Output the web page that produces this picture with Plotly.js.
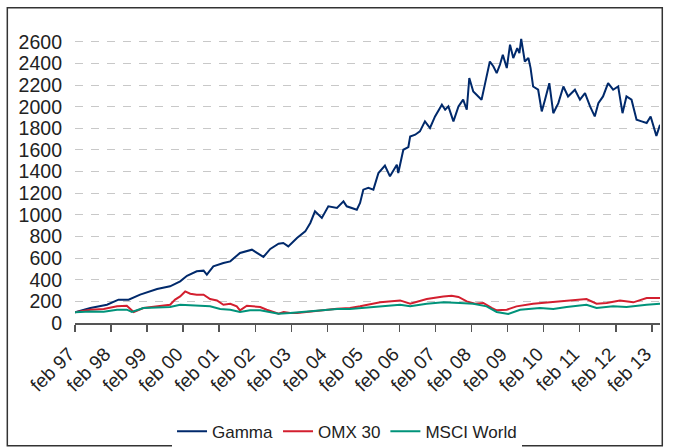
<!DOCTYPE html>
<html>
<head>
<meta charset="utf-8">
<script src="https://cdn.plot.ly/plotly-3.0.1.min.js"></script>
<style>
  html, body { margin: 0; padding: 0; background: #fff; }
  #chart { width: 681px; height: 448px; }
</style>
</head>
<body>
<div id="chart"></div>
<script>
// Time in decimal years (feb 97 = 1997.083)
const gammaT = [1997.083,1997.51,1997.97,1998.29,1998.57,1998.89,1999.36,1999.72,2000.00,2000.19,2000.46,2000.65,2000.74,2000.92,2001.20,2001.39,2001.66,2001.99,2002.13,2002.31,2002.50,2002.73,2002.86,2003.00,2003.24,2003.47,2003.61,2003.74,2003.93,2004.11,2004.35,2004.53,2004.62,2004.90,2004.99,2005.08,2005.22,2005.36,2005.50,2005.68,2005.82,2006.01,2006.05,2006.19,2006.33,2006.38,2006.52,2006.65,2006.79,2006.93,2007.07,2007.26,2007.35,2007.44,2007.58,2007.72,2007.85,2007.95,2008.02,2008.13,2008.27,2008.36,2008.46,2008.59,2008.69,2008.78,2008.87,2008.95,2009.06,2009.15,2009.24,2009.35,2009.41,2009.46,2009.56,2009.66,2009.72,2009.79,2009.93,2010.03,2010.12,2010.24,2010.35,2010.49,2010.63,2010.76,2010.95,2011.09,2011.23,2011.37,2011.50,2011.60,2011.73,2011.87,2012.01,2012.15,2012.27,2012.38,2012.52,2012.66,2012.80,2012.94,2013.05,2013.17,2013.21,2013.31];
const gammaV = [100,139,169,216,216,262,314,339,385,437,478,484,447,524,555,570,648,678,648,611,685,733,740,708,786,847,925,1033,972,1079,1064,1125,1079,1048,1110,1233,1249,1233,1387,1455,1356,1464,1387,1602,1627,1725,1741,1772,1864,1803,1910,2018,1972,2003,1864,2003,2065,1972,2265,2141,2095,2065,2218,2418,2372,2311,2388,2481,2357,2574,2450,2542,2496,2628,2418,2450,2357,2187,2157,1956,2065,2218,1940,2033,2187,2095,2157,2065,2125,2003,1910,2033,2095,2218,2157,2187,1940,2095,2065,1880,1864,1849,1910,1772,1730,1833];

const omxT = [1997.083,1997.51,1997.88,1998.25,1998.52,1998.71,1998.98,1999.36,1999.72,1999.86,2000.00,2000.14,2000.28,2000.46,2000.65,2000.83,2001.02,2001.20,2001.39,2001.57,2001.66,2001.85,2002.03,2002.22,2002.40,2002.59,2002.73,2002.87,2003.05,2003.24,2003.61,2003.97,2004.35,2004.71,2004.99,2005.55,2006.10,2006.38,2006.84,2007.30,2007.53,2007.72,2007.95,2008.18,2008.41,2008.64,2008.78,2009.06,2009.33,2009.79,2010.26,2010.72,2011.27,2011.55,2011.83,2012.20,2012.57,2012.94,2013.31];
const omxV = [100,123,129,154,160,102,139,154,169,216,246,292,271,262,262,222,209,169,178,154,117,160,154,148,123,98,86,102,92,92,107,123,132,139,154,191,209,178,222,246,252,241,200,178,185,139,117,123,154,178,191,209,222,178,185,209,191,231,231];

const msciT = [1997.083,1997.51,1997.88,1998.25,1998.52,1998.66,1998.98,1999.36,1999.72,2000.00,2000.19,2000.46,2000.83,2001.11,2001.39,2001.66,2001.94,2002.22,2002.50,2002.73,2003.05,2003.42,2003.97,2004.35,2004.71,2005.08,2005.55,2006.10,2006.38,2006.84,2007.30,2007.53,2007.76,2008.13,2008.50,2008.78,2009.10,2009.43,2009.98,2010.35,2010.72,2011.27,2011.55,2012.01,2012.38,2012.94,2013.31];
const msciV = [100,107,105,123,123,102,139,144,148,169,166,160,154,129,123,102,117,117,102,86,92,102,117,129,129,139,148,169,154,178,191,191,185,178,154,102,83,123,139,129,148,169,139,154,148,169,178];

const tickPos = [1997.083,1998.083,1999.083,2000.083,2001.083,2002.083,2003.083,2004.083,2005.083,2006.083,2007.083,2008.083,2009.083,2010.083,2011.083,2012.083,2013.083];
const tickLabels = ["feb 97","feb 98","feb 99","feb 00","feb 01","feb 02","feb 03","feb 04","feb 05","feb 06","feb 07","feb 08","feb 09","feb 10","feb 11","feb 12","feb 13"];
const yTicks = [0,200,400,600,800,1000,1200,1400,1600,1800,2000,2200,2400,2600];

const seriesNames = ["Gamma","OMX 30","MSCI World"];
const seriesColors = ["#00296b","#d31f2f","#00937a"];

const traces = [
  {x: gammaT, y: gammaV},
  {x: omxT, y: omxV},
  {x: msciT, y: msciV}
].map((d, i) => ({
  type: "scatter", mode: "lines", x: d.x, y: d.y, name: seriesNames[i],
  line: {color: seriesColors[i], width: 2}
}));

const font = {family: "Liberation Sans, Arial, sans-serif", color: "#222"};

const layout = {
  width: 681, height: 448,
  margin: {l: 75, r: 21, t: 31, b: 125, autoexpand: false},
  paper_bgcolor: "#fff", plot_bgcolor: "#fff",
  font: font,
  showlegend: true,
  legend: {orientation: "h", x: 0.465, xanchor: "center", y: -0.372, yanchor: "middle",
           font: {family: font.family, size: 17, color: "#222"}, traceorder: "normal"},
  xaxis: {
    automargin: false,
    range: [1997.083, 2013.31], tickmode: "array", tickvals: tickPos, ticktext: tickLabels,
    tickangle: -45, ticks: "outside", ticklen: 7, tickwidth: 1.5, tickcolor: "#555",
    showline: true, linecolor: "#555", linewidth: 1.5, showgrid: false, zeroline: false,
    ticklabelshift: -6, ticklabelstandoff: 4,
    tickfont: {family: font.family, size: 19, color: "#222"}
  },
  yaxis: {
    automargin: false,
    range: [0, 2700], tickmode: "array", tickvals: yTicks,
    showgrid: true, gridcolor: "#c8c8c8", griddash: "8px,8px", gridwidth: 1,
    zeroline: false, showline: false, ticks: "", ticklabelstandoff: 12,
    tickfont: {family: font.family, size: 19.5, color: "#222"}
  },
  shapes: [{
    type: "rect", xref: "paper", yref: "paper",
    x0: -0.1157, x1: 1.0039, y0: -0.42, y1: 1.0794,
    line: {color: "#333", width: 1.5}, fillcolor: "rgba(0,0,0,0)", layer: "above"
  }]
};

Plotly.newPlot("chart", traces, layout, {displayModeBar: false, staticPlot: true});
</script>
</body>
</html>
